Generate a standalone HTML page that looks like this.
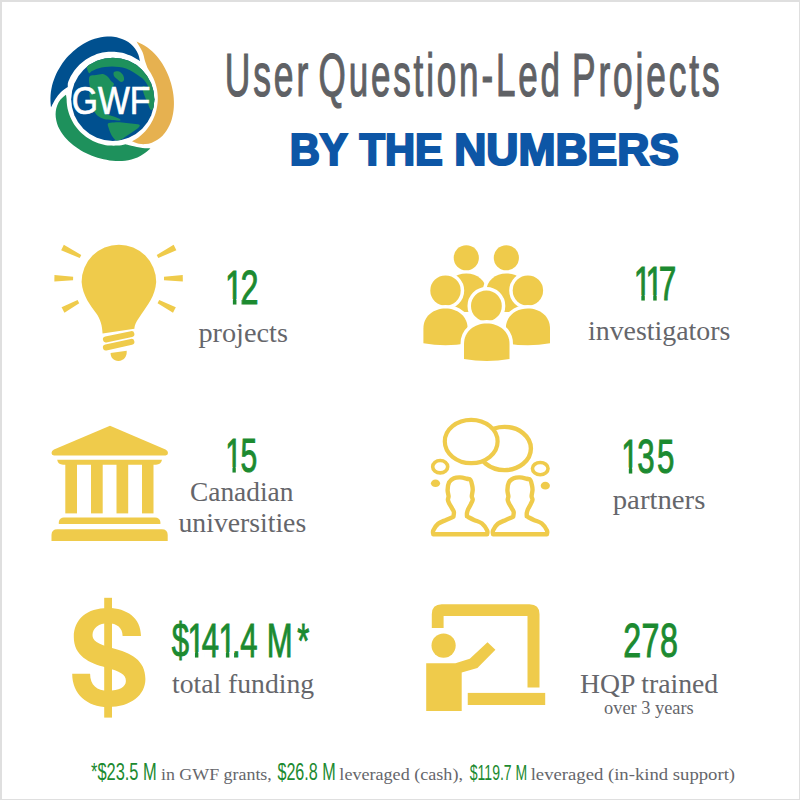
<!DOCTYPE html>
<html><head><meta charset="utf-8"><title>User Question-Led Projects by the Numbers</title>
<style>
html,body{margin:0;padding:0;background:#fff;}
body{width:800px;height:800px;overflow:hidden;position:relative;font-family:"Liberation Sans",sans-serif;}
.frame{position:absolute;left:0;top:0;width:800px;height:800px;box-sizing:border-box;border-style:solid;border-color:#dfdfdf;border-width:2px 1px 1px 2px;}
svg{position:absolute;left:0;top:0;}
</style></head>
<body>
<div class="frame"></div>
<svg width="800" height="800" viewBox="0 0 800 800">
<defs></defs>
<path d="M51.00,107.50 C50.91,106.46 50.55,103.33 50.48,101.23 C50.41,99.14 50.42,97.03 50.58,94.95 C50.73,92.86 51.03,90.77 51.42,88.72 C51.81,86.66 52.32,84.62 52.92,82.62 C53.52,80.62 54.23,78.65 55.02,76.72 C55.81,74.80 56.71,72.91 57.67,71.06 C58.64,69.22 59.70,67.42 60.82,65.67 C61.95,63.93 63.16,62.22 64.44,60.58 C65.72,58.94 67.08,57.35 68.50,55.83 C69.93,54.30 71.42,52.83 72.99,51.44 C74.55,50.05 76.18,48.72 77.88,47.48 C79.57,46.24 81.34,45.07 83.15,44.01 C84.97,42.94 86.86,41.95 88.79,41.09 C90.71,40.22 92.71,39.45 94.73,38.82 C96.75,38.19 98.82,37.66 100.91,37.29 C102.99,36.92 105.12,36.68 107.23,36.61 C109.34,36.54 111.48,36.61 113.56,36.87 C115.65,37.12 117.75,37.54 119.75,38.15 C121.75,38.76 123.73,39.55 125.57,40.53 C127.41,41.51 129.20,42.68 130.80,44.04 C132.40,45.40 133.90,46.95 135.15,48.68 C136.40,50.40 137.51,52.32 138.32,54.38 C139.13,56.43 139.72,59.90 140.00,61.00 C139.44,60.67 137.75,59.66 136.63,59.00 C135.51,58.33 134.41,57.62 133.25,57.01 C132.10,56.40 130.91,55.83 129.70,55.32 C128.50,54.80 127.26,54.34 126.01,53.93 C124.76,53.52 123.49,53.17 122.20,52.87 C120.92,52.57 119.62,52.32 118.31,52.13 C117.00,51.94 115.68,51.81 114.36,51.73 C113.04,51.66 111.70,51.64 110.38,51.68 C109.05,51.72 107.72,51.82 106.40,51.97 C105.08,52.12 103.76,52.34 102.46,52.60 C101.16,52.87 99.86,53.19 98.58,53.57 C97.31,53.95 96.04,54.39 94.80,54.88 C93.56,55.36 92.33,55.91 91.14,56.50 C89.94,57.09 88.77,57.74 87.63,58.44 C86.49,59.13 85.37,59.88 84.30,60.67 C83.22,61.46 82.18,62.30 81.17,63.18 C80.17,64.06 79.20,64.99 78.27,65.95 C77.35,66.91 76.46,67.92 75.63,68.96 C74.79,70.00 73.99,71.08 73.25,72.18 C72.50,73.29 71.80,74.43 71.16,75.60 C70.51,76.76 69.91,77.96 69.37,79.18 C68.83,80.39 68.16,81.59 67.90,82.89 C67.64,84.20 67.82,86.32 67.80,87.00 C66.67,87.83 63.05,90.00 61.00,92.00 C58.95,94.00 57.17,96.42 55.50,99.00 C53.83,101.58 51.75,106.08 51.00,107.50 Z" fill="#00508f"/>
<path d="M136.50,41.50 C137.44,41.97 140.31,43.29 142.14,44.31 C143.97,45.33 145.80,46.39 147.50,47.60 C149.21,48.81 150.83,50.16 152.36,51.57 C153.90,52.99 155.34,54.51 156.70,56.08 C158.06,57.64 159.33,59.30 160.51,60.98 C161.70,62.67 162.80,64.42 163.82,66.19 C164.84,67.97 165.78,69.79 166.65,71.64 C167.51,73.48 168.30,75.36 169.02,77.26 C169.73,79.17 170.37,81.10 170.94,83.05 C171.51,85.00 172.00,86.98 172.41,88.97 C172.83,90.97 173.17,92.98 173.42,95.02 C173.66,97.05 173.84,99.10 173.90,101.16 C173.97,103.22 173.95,105.30 173.82,107.37 C173.68,109.44 173.45,111.52 173.08,113.57 C172.72,115.62 172.24,117.68 171.63,119.68 C171.01,121.68 170.27,123.66 169.37,125.55 C168.48,127.45 167.45,129.31 166.27,131.03 C165.09,132.75 163.76,134.41 162.29,135.88 C160.82,137.35 159.20,138.73 157.45,139.87 C155.70,141.00 153.80,142.00 151.81,142.70 C149.83,143.40 147.69,143.91 145.53,144.07 C143.36,144.23 141.06,144.13 138.81,143.66 C136.55,143.19 133.13,141.65 132.00,141.25 C132.56,140.97 134.28,140.19 135.35,139.55 C136.43,138.90 137.43,138.14 138.43,137.39 C139.42,136.63 140.39,135.84 141.32,135.01 C142.25,134.19 143.14,133.32 144.00,132.44 C144.87,131.55 145.69,130.62 146.48,129.68 C147.27,128.73 148.02,127.75 148.74,126.75 C149.45,125.75 150.12,124.72 150.76,123.67 C151.39,122.62 151.98,121.55 152.54,120.46 C153.09,119.36 153.60,118.25 154.07,117.12 C154.53,115.99 154.96,114.85 155.34,113.69 C155.72,112.53 156.06,111.35 156.35,110.17 C156.65,108.99 156.90,107.79 157.10,106.59 C157.30,105.39 157.46,104.17 157.57,102.96 C157.68,101.74 157.75,100.52 157.77,99.30 C157.79,98.08 157.77,96.85 157.70,95.63 C157.63,94.41 157.51,93.18 157.35,91.97 C157.18,90.75 156.97,89.54 156.72,88.33 C156.46,87.13 156.16,85.93 155.82,84.75 C155.47,83.56 155.08,82.39 154.64,81.22 C154.21,80.06 153.73,78.92 153.20,77.79 C152.68,76.66 152.11,75.54 151.50,74.45 C150.89,73.36 150.20,72.31 149.53,71.24 C148.87,70.16 147.84,68.54 147.50,68.00 C147.08,66.83 145.83,63.67 145.00,61.00 C144.17,58.33 143.92,55.25 142.50,52.00 C141.08,48.75 137.50,43.25 136.50,41.50 Z" fill="#e6b150"/>
<path d="M66.00,94.75 C65.09,95.54 61.97,97.78 60.52,99.51 C59.07,101.24 58.08,103.20 57.29,105.15 C56.50,107.10 56.02,109.17 55.77,111.21 C55.51,113.25 55.54,115.34 55.76,117.37 C55.97,119.40 56.44,121.43 57.05,123.38 C57.66,125.33 58.48,127.24 59.42,129.06 C60.35,130.89 61.46,132.65 62.65,134.31 C63.85,135.98 65.18,137.57 66.57,139.07 C67.96,140.58 69.46,141.99 71.00,143.33 C72.55,144.66 74.17,145.91 75.83,147.09 C77.48,148.27 79.20,149.36 80.95,150.38 C82.69,151.41 84.48,152.36 86.30,153.24 C88.12,154.12 89.98,154.93 91.86,155.67 C93.74,156.42 95.65,157.09 97.59,157.70 C99.53,158.30 101.50,158.83 103.50,159.28 C105.49,159.73 107.52,160.12 109.56,160.40 C111.61,160.68 113.68,160.88 115.76,160.97 C117.84,161.05 119.95,161.05 122.04,160.91 C124.14,160.77 126.25,160.53 128.32,160.13 C130.39,159.74 132.47,159.22 134.47,158.53 C136.47,157.84 138.46,157.01 140.31,156.01 C142.17,155.01 143.94,153.79 145.62,152.52 C147.30,151.25 149.60,149.09 150.40,148.40 C149.08,148.33 145.69,148.44 142.50,148.00 C139.31,147.56 134.12,146.38 131.25,145.75 C128.38,145.12 126.25,144.50 125.25,144.25 C124.61,144.40 122.71,144.91 121.42,145.14 C120.14,145.36 118.83,145.51 117.53,145.62 C116.22,145.73 114.91,145.78 113.61,145.78 C112.31,145.78 111.00,145.73 109.70,145.62 C108.40,145.51 107.10,145.35 105.82,145.14 C104.54,144.92 103.26,144.65 102.00,144.33 C100.74,144.01 99.49,143.64 98.27,143.22 C97.04,142.80 95.83,142.32 94.64,141.80 C93.45,141.28 92.28,140.70 91.14,140.09 C90.01,139.47 88.89,138.80 87.81,138.09 C86.72,137.38 85.67,136.63 84.65,135.83 C83.63,135.03 82.64,134.19 81.69,133.32 C80.74,132.44 79.82,131.52 78.94,130.57 C78.07,129.61 77.23,128.62 76.44,127.60 C75.65,126.58 74.90,125.52 74.19,124.44 C73.49,123.35 72.82,122.24 72.21,121.10 C71.60,119.96 71.03,118.79 70.51,117.61 C70.00,116.43 69.53,115.21 69.11,113.99 C68.69,112.77 68.32,111.52 68.01,110.27 C67.70,109.01 67.43,107.74 67.22,106.46 C67.01,105.18 66.85,103.89 66.75,102.60 C66.65,101.31 66.73,100.02 66.60,98.72 C66.48,97.41 66.10,95.41 66.00,94.75 Z" fill="#1e915c"/>
<defs><clipPath id="gclip"><circle cx="112.8" cy="99.3" r="41.6"/></clipPath></defs>
<circle cx="112.8" cy="99.3" r="41.6" fill="#00508f"/>
<path clip-path="url(#gclip)" d="M86.94221803632234,66.20354834851767 C87.41,64.52 90.11,63.90 91.80,62.93 C93.49,61.95 95.26,61.09 97.07,60.36 C98.87,59.63 100.75,59.02 102.64,58.55 C104.53,58.08 106.47,57.73 108.41,57.53 C110.35,57.33 112.32,57.26 114.27,57.33 C116.21,57.39 118.17,57.60 120.09,57.94 C122.01,58.28 123.93,58.75 125.78,59.36 C127.63,59.96 129.46,60.70 131.21,61.55 C132.96,62.40 134.67,63.39 136.29,64.48 C137.90,65.57 139.46,66.78 140.90,68.09 C142.35,69.39 143.72,70.81 144.97,72.30 C146.23,73.80 147.39,75.39 148.42,77.04 C149.45,78.70 150.38,80.44 151.17,82.22 C151.96,84.00 152.64,85.85 153.17,87.72 C153.71,89.60 154.12,91.53 154.39,93.45 C154.66,95.38 154.80,97.35 154.80,99.30 C154.80,101.25 154.69,104.36 154.39,105.15 C154.09,105.93 153.57,105.86 153.00,104.00 C152.43,102.14 151.83,97.00 151.00,94.00 C150.17,91.00 149.17,88.33 148.00,86.00 C146.83,83.67 145.50,81.67 144.00,80.00 C142.50,78.33 140.83,77.33 139.00,76.00 C137.17,74.67 135.17,73.25 133.00,72.00 C130.83,70.75 128.33,69.33 126.00,68.50 C123.67,67.67 121.33,67.33 119.00,67.00 C116.67,66.67 114.33,66.50 112.00,66.50 C109.67,66.50 107.33,66.67 105.00,67.00 C102.67,67.33 100.17,67.83 98.00,68.50 C95.83,69.17 93.50,70.25 92.00,71.00 C90.50,71.75 89.84,73.80 89.00,73.00 C88.16,72.20 86.48,67.88 86.94,66.20 Z" fill="#1e915c"/>
<path clip-path="url(#gclip)" d="M90,76 C91.17,75.00 93.83,75.33 96.00,75.00 C98.17,74.67 101.00,73.67 103.00,74.00 C105.00,74.33 106.67,75.83 108.00,77.00 C109.33,78.17 110.00,79.83 111.00,81.00 C112.00,82.17 113.83,82.67 114.00,84.00 C114.17,85.33 112.00,87.17 112.00,89.00 C112.00,90.83 114.00,93.00 114.00,95.00 C114.00,97.00 113.00,99.33 112.00,101.00 C111.00,102.67 109.17,103.50 108.00,105.00 C106.83,106.50 105.33,108.50 105.00,110.00 C104.67,111.50 104.83,113.00 106.00,114.00 C107.17,115.00 109.83,115.25 112.00,116.00 C114.17,116.75 117.67,117.75 119.00,118.50 C120.33,119.25 121.17,120.25 120.00,120.50 C118.83,120.75 114.67,120.25 112.00,120.00 C109.33,119.75 106.33,119.67 104.00,119.00 C101.67,118.33 99.67,117.33 98.00,116.00 C96.33,114.67 95.17,113.00 94.00,111.00 C92.83,109.00 91.75,106.50 91.00,104.00 C90.25,101.50 89.67,98.67 89.50,96.00 C89.33,93.33 90.08,90.50 90.00,88.00 C89.92,85.50 89.00,83.00 89.00,81.00 C89.00,79.00 88.83,77.00 90.00,76.00 Z" fill="#1e915c"/>
<path clip-path="url(#gclip)" d="M114,72 C114.83,71.25 117.50,71.00 119.00,71.50 C120.50,72.00 122.17,73.58 123.00,75.00 C123.83,76.42 124.33,78.83 124.00,80.00 C123.67,81.17 122.17,82.17 121.00,82.00 C119.83,81.83 118.17,80.00 117.00,79.00 C115.83,78.00 114.50,77.17 114.00,76.00 C113.50,74.83 113.17,72.75 114.00,72.00 Z" fill="#1e915c"/>
<path clip-path="url(#gclip)" d="M108,123.5 C108.83,122.42 111.67,122.67 114.00,122.50 C116.33,122.33 119.17,122.33 122.00,122.50 C124.83,122.67 128.17,123.17 131.00,123.50 C133.83,123.83 137.67,123.92 139.00,124.50 C140.33,125.08 139.83,125.92 139.00,127.00 C138.17,128.08 135.83,129.67 134.00,131.00 C132.17,132.33 130.00,133.67 128.00,135.00 C126.00,136.33 123.83,138.00 122.00,139.00 C120.17,140.00 118.67,141.50 117.00,141.00 C115.33,140.50 113.33,138.00 112.00,136.00 C110.67,134.00 109.67,131.08 109.00,129.00 C108.33,126.92 107.17,124.58 108.00,123.50 Z" fill="#1e915c"/>
<path clip-path="url(#gclip)" d="M143,86 C143.83,85.50 146.50,86.83 148.00,88.00 C149.50,89.17 150.83,91.00 152.00,93.00 C153.17,95.00 154.58,97.67 155.00,100.00 C155.42,102.33 155.17,105.33 154.50,107.00 C153.83,108.67 152.08,110.50 151.00,110.00 C149.92,109.50 149.00,106.17 148.00,104.00 C147.00,101.83 145.83,99.17 145.00,97.00 C144.17,94.83 143.33,92.83 143.00,91.00 C142.67,89.17 142.17,86.50 143.00,86.00 Z" fill="#1e915c"/>
<text transform="translate(71.8,113.5) scale(0.865,1)" font-family="Liberation Sans" font-size="39" fill="#fff" stroke="#fff" stroke-width="0.7">GWF</text>
<path d="M102.55,333.5 C102.3,326 100.5,319 96,313 C91,306 82.5,296 81.6,282 A37.3,37.3 0 1 1 156.2,282 C155.3,296 147,306 141.5,314 C137.5,320 134.6,324 134.4,328.8 Z" fill="#efcb4b"/>
<line x1="105.9" y1="339.5" x2="131.4" y2="334.1" stroke="#efcb4b" stroke-width="6" stroke-linecap="round"/>
<line x1="105.9" y1="347.5" x2="131.4" y2="341.9" stroke="#efcb4b" stroke-width="6" stroke-linecap="round"/>
<path d="M110.6,353.1 L126.7,350.75 C127.2,356.5 123.8,360.9 118.4,360.9 C113.5,360.9 110.4,357.5 110.6,353.1 Z" fill="#efcb4b"/>
<path d="M61.16,250.18 L79.72,258.07 L81.28,254.93 L63.84,244.82 Z" fill="#efcb4b"/>
<path d="M54.35,281.45 L73.07,280.25 L73.13,276.75 L54.45,274.95 Z" fill="#efcb4b"/>
<path d="M64.44,312.63 L79.24,303.14 L77.56,300.06 L61.56,307.37 Z" fill="#efcb4b"/>
<path d="M173.63,244.83 L156.70,254.94 L158.30,258.06 L176.37,250.17 Z" fill="#efcb4b"/>
<path d="M182.75,274.95 L163.97,276.75 L164.03,280.25 L182.85,281.45 Z" fill="#efcb4b"/>
<path d="M175.79,307.34 L159.21,300.05 L157.59,303.15 L173.01,312.66 Z" fill="#efcb4b"/>
<path d="M446.30,310.00 L446.30,291.50 C446.30,280.50 455.30,273.50 466.30,273.50 C477.30,273.50 486.30,280.50 486.30,291.50 L486.30,310.00 Q466.30,314.00 446.30,310.00 Z" fill="#efcb4b" stroke="#fff" stroke-width="7" paint-order="stroke"/>
<circle cx="466.3" cy="257.75" r="12.6" fill="#efcb4b"/>
<path d="M486.35,310.00 L486.35,291.50 C486.35,280.50 495.35,273.50 506.35,273.50 C517.35,273.50 526.35,280.50 526.35,291.50 L526.35,310.00 Q506.35,314.00 486.35,310.00 Z" fill="#efcb4b" stroke="#fff" stroke-width="7" paint-order="stroke"/>
<circle cx="506.35" cy="257.75" r="12.6" fill="#efcb4b"/>
<circle cx="445.5" cy="290.6" r="15.2" fill="#efcb4b" stroke="#fff" stroke-width="7" paint-order="stroke"/>
<path d="M423.40,343.25 L423.40,328.39 C423.40,316.24 433.34,308.50 445.50,308.50 C457.66,308.50 467.60,316.24 467.60,328.39 L467.60,343.25 Q445.50,347.25 423.40,343.25 Z" fill="#efcb4b" stroke="#fff" stroke-width="7" paint-order="stroke"/>
<circle cx="527.9" cy="290.6" r="15.2" fill="#efcb4b" stroke="#fff" stroke-width="7" paint-order="stroke"/>
<path d="M505.80,343.25 L505.80,328.39 C505.80,316.24 515.75,308.50 527.90,308.50 C540.05,308.50 550.00,316.24 550.00,328.39 L550.00,343.25 Q527.90,347.25 505.80,343.25 Z" fill="#efcb4b" stroke="#fff" stroke-width="7" paint-order="stroke"/>
<circle cx="486.4" cy="305.9" r="15.4" fill="#efcb4b" stroke="#fff" stroke-width="7" paint-order="stroke"/>
<path d="M464.00,359.00 L464.00,343.88 C464.00,331.36 474.24,323.40 486.75,323.40 C499.26,323.40 509.50,331.36 509.50,343.88 L509.50,359.00 Q486.75,363.00 464.00,359.00 Z" fill="#efcb4b" stroke="#fff" stroke-width="7" paint-order="stroke"/>
<path d="M110,425.7 L165.5,449.5 Q168,450.8 168,453 Q168,455.4 165.5,455.4 L54,455.4 Q51.5,455.4 51.5,453 Q51.5,450.8 54,449.5 Z" fill="#efcb4b"/>
<path d="M57.2,459.8 L162,459.8 Q161,464.7 156,464.7 L63,464.7 Q58,464.7 57.2,459.8 Z" fill="#efcb4b"/>
<rect x="65.3" y="464" width="11.70" height="49.4" fill="#efcb4b"/>
<rect x="91" y="464" width="11.70" height="49.4" fill="#efcb4b"/>
<rect x="116.5" y="464" width="11.70" height="49.4" fill="#efcb4b"/>
<rect x="142" y="464" width="11.50" height="49.4" fill="#efcb4b"/>
<path d="M58.8,524 L58.8,522 Q59.5,517.5 64,517.5 L155,517.5 Q159.7,517.5 160.4,522 L160.4,524 Z" fill="#efcb4b"/>
<path d="M51.5,541 L51.5,535 Q51.5,529.2 57.5,529.2 L161.7,529.2 Q167.7,529.2 167.7,535 L167.7,541 Z" fill="#efcb4b"/>
<ellipse cx="504.5" cy="448.5" rx="26.4" ry="21.6" stroke="#efcb4b" stroke-width="4.4" fill="none"/>
<ellipse cx="471.2" cy="441.5" rx="26.4" ry="21.6" fill="#fff" stroke="#efcb4b" stroke-width="4.2"/>
<ellipse cx="440.2" cy="466.7" rx="7.5" ry="6.2" stroke="#efcb4b" stroke-width="3.6" fill="none"/>
<ellipse cx="435.5" cy="483.3" rx="4.6" ry="3.7" fill="#efcb4b"/>
<ellipse cx="540.25" cy="468.6" rx="7.8" ry="6.1" stroke="#efcb4b" stroke-width="3.6" fill="none"/>
<ellipse cx="545.3" cy="485.7" rx="4.6" ry="3.9" fill="#efcb4b"/>
<path d="M433.30,534.30 C433.30,533.65 432.50,532.15 433.30,530.40 C434.10,528.65 435.98,525.55 438.10,523.80 C440.22,522.05 443.45,521.07 446.00,519.90 C448.55,518.73 452.17,517.32 453.40,516.80 C453.48,516.00 454.12,513.38 453.90,512.00 C453.68,510.62 452.90,509.96 452.10,508.50 C451.30,507.04 449.80,504.71 449.10,503.25 C448.40,501.79 447.98,500.92 447.90,499.75 C447.82,498.58 448.65,497.86 448.60,496.25 C448.55,494.64 447.52,492.43 447.60,490.10 C447.68,487.77 448.05,484.22 449.10,482.25 C450.15,480.28 452.08,479.11 453.90,478.30 C455.72,477.49 457.82,477.32 460.00,477.40 C462.18,477.47 465.25,478.32 467.00,478.75 C468.75,479.18 469.62,478.83 470.50,480.00 C471.38,481.17 471.88,484.07 472.25,485.75 C472.62,487.43 472.77,488.35 472.70,490.10 C472.62,491.85 471.80,494.64 471.80,496.25 C471.80,497.86 472.85,498.44 472.70,499.75 C472.55,501.06 471.63,502.58 470.90,504.10 C470.17,505.62 468.95,507.43 468.30,508.90 C467.65,510.37 467.22,511.65 467.00,512.90 C466.78,514.15 467.00,515.82 467.00,516.40 C468.17,516.98 471.52,518.73 474.00,519.90 C476.48,521.07 479.72,521.65 481.90,523.40 C484.08,525.15 486.23,528.58 487.10,530.40 C487.97,532.22 487.10,533.65 487.10,534.30 Z" stroke="#efcb4b" stroke-width="4.4" fill="none" stroke-linejoin="round"/>
<path d="M433.30,534.30 C433.30,533.65 432.50,532.15 433.30,530.40 C434.10,528.65 435.98,525.55 438.10,523.80 C440.22,522.05 443.45,521.07 446.00,519.90 C448.55,518.73 452.17,517.32 453.40,516.80 C453.48,516.00 454.12,513.38 453.90,512.00 C453.68,510.62 452.90,509.96 452.10,508.50 C451.30,507.04 449.80,504.71 449.10,503.25 C448.40,501.79 447.98,500.92 447.90,499.75 C447.82,498.58 448.65,497.86 448.60,496.25 C448.55,494.64 447.52,492.43 447.60,490.10 C447.68,487.77 448.05,484.22 449.10,482.25 C450.15,480.28 452.08,479.11 453.90,478.30 C455.72,477.49 457.82,477.32 460.00,477.40 C462.18,477.47 465.25,478.32 467.00,478.75 C468.75,479.18 469.62,478.83 470.50,480.00 C471.38,481.17 471.88,484.07 472.25,485.75 C472.62,487.43 472.77,488.35 472.70,490.10 C472.62,491.85 471.80,494.64 471.80,496.25 C471.80,497.86 472.85,498.44 472.70,499.75 C472.55,501.06 471.63,502.58 470.90,504.10 C470.17,505.62 468.95,507.43 468.30,508.90 C467.65,510.37 467.22,511.65 467.00,512.90 C466.78,514.15 467.00,515.82 467.00,516.40 C468.17,516.98 471.52,518.73 474.00,519.90 C476.48,521.07 479.72,521.65 481.90,523.40 C484.08,525.15 486.23,528.58 487.10,530.40 C487.97,532.22 487.10,533.65 487.10,534.30 Z" transform="translate(59.8,0)" stroke="#efcb4b" stroke-width="4.4" fill="none" stroke-linejoin="round"/>
<rect x="104.2" y="597.8" width="7.8" height="119.8" fill="#efcb4b"/>
<path d="M141,636 C141,618 127,607.9 108,607.9 C87,607.9 73.8,619 73.8,637 C73.8,656 89,663 106,667.5 C120,671.5 125.9,674 125.9,681 C125.9,687 119,690.8 108,690.8 C97,690.8 90.1,685 90.1,673.7 L72.2,673.7 C72.2,694 87,707 108,707 C131,707 145.4,695 145.4,679 C145.4,660 131,653 112,648 C97,644 92.5,640.5 92.5,635 C92.5,628 99,623.3 108,623.3 C117,623.3 122.6,628 122.6,636 Z" fill="#efcb4b"/>
<path d="M431.8,627.9 L431.8,614.3 Q431.8,604.3 441.8,604.3 L529.5,604.3 Q539.5,604.3 539.5,614.3 L539.5,687.5 L527.5,687.5 L527.5,616.1 L443.6,616.1 L443.6,627.9 Z" fill="#efcb4b"/>
<rect x="467.75" y="692.9" width="77.45" height="12.1" fill="#efcb4b"/>
<circle cx="443.6" cy="645.6" r="12.1" fill="#efcb4b"/>
<path d="M426.2,663.3 L455.4,663.3 L469.8,658.8 L487.5,642.25 L495.4,649.8 L477.4,668.1 L461.7,672.6 L461.7,711.1 L426.2,711.1 Z" fill="#efcb4b"/>
<text y="95.50" font-family="Liberation Sans" font-weight="normal" font-size="61.5" fill="#5f6165" stroke="#5f6165" stroke-width="1.2" letter-spacing="5"><tspan x="224.69" textLength="86.44" lengthAdjust="spacingAndGlyphs">User</tspan> <tspan x="318.61" textLength="244.18" lengthAdjust="spacingAndGlyphs">Question-Led</tspan> <tspan x="571.95" textLength="150.59" lengthAdjust="spacingAndGlyphs">Projects</tspan></text>
<text y="165.00" font-family="Liberation Sans" font-weight="bold" font-size="44.5" fill="#0d56a6" stroke="#0d56a6" stroke-width="2.2"><tspan x="289.65" textLength="57.27" lengthAdjust="spacingAndGlyphs">BY</tspan> <tspan x="359.44" textLength="83.36" lengthAdjust="spacingAndGlyphs">THE</tspan> <tspan x="454.20" textLength="224.78" lengthAdjust="spacingAndGlyphs">NUMBERS</tspan></text>
<text x="340.51 363.96" transform="translate(0.00,304.00) scale(0.6611,1)" font-family="Liberation Sans" font-weight="normal" font-size="49" fill="#1c8a30" stroke="#1c8a30" stroke-width="1.0">12</text><rect x="225.66" y="298.98" width="7.21" height="6.52" fill="#fff"/><rect x="236.45" y="298.98" width="5.05" height="6.52" fill="#fff"/>
<text transform="translate(198.40,341.60) scale(1.0675,1)" font-family="Liberation Serif" font-weight="normal" font-size="26.5" fill="#65666b">projects</text>
<text x="984.23 1002.68 1023.03" transform="translate(0.00,300.00) scale(0.6439,1)" font-family="Liberation Sans" font-weight="normal" font-size="49" fill="#1c8a30" stroke="#1c8a30" stroke-width="1.0">117</text><rect x="634.30" y="294.98" width="7.03" height="6.52" fill="#fff"/><rect x="644.81" y="294.98" width="6.55" height="6.52" fill="#fff"/><rect x="646.18" y="294.98" width="7.03" height="6.52" fill="#fff"/><rect x="656.69" y="294.98" width="6.55" height="6.52" fill="#fff"/>
<text transform="translate(587.95,339.50) scale(1.0522,1)" font-family="Liberation Serif" font-weight="normal" font-size="26.5" fill="#65666b">investigators</text>
<text x="366.99 391.66" transform="translate(0.00,472.00) scale(0.6138,1)" font-family="Liberation Sans" font-weight="normal" font-size="49" fill="#1c8a30" stroke="#1c8a30" stroke-width="1.0">15</text><rect x="225.77" y="466.98" width="6.70" height="6.52" fill="#fff"/><rect x="235.79" y="466.98" width="5.71" height="6.52" fill="#fff"/>
<text transform="translate(189.97,500.50) scale(1.0343,1)" font-family="Liberation Serif" font-weight="normal" font-size="26.5" fill="#65666b">Canadian</text>
<text transform="translate(178.50,531.50) scale(1.0455,1)" font-family="Liberation Serif" font-weight="normal" font-size="26.5" fill="#65666b">universities</text>
<text x="974.40 999.22 1030.15" transform="translate(0.00,472.50) scale(0.6377,1)" font-family="Liberation Sans" font-weight="normal" font-size="49" fill="#1c8a30" stroke="#1c8a30" stroke-width="1.0">135</text><rect x="621.86" y="467.48" width="6.96" height="6.52" fill="#fff"/><rect x="632.27" y="467.48" width="6.04" height="6.52" fill="#fff"/>
<text transform="translate(612.75,508.75) scale(1.0853,1)" font-family="Liberation Serif" font-weight="normal" font-size="26.5" fill="#65666b">partners</text>
<text x="270.63 295.18 317.83 343.91 365.14 378.40 405.65 419.88 468.09" transform="translate(0.00,657.00) scale(0.6351,1)" font-family="Liberation Sans" font-weight="normal" font-size="49" fill="#1c8a30" stroke="#1c8a30" stroke-width="1.0">$141.4 M*</text><rect x="188.64" y="651.98" width="6.31" height="6.52" fill="#fff"/><rect x="198.38" y="651.98" width="6.46" height="6.52" fill="#fff"/><rect x="218.96" y="651.98" width="6.93" height="6.52" fill="#fff"/><rect x="229.33" y="651.98" width="4.67" height="6.52" fill="#fff"/>
<text transform="translate(172.00,693.00) scale(1.0441,1)" font-family="Liberation Serif" font-weight="normal" font-size="26.5" fill="#65666b">total funding</text>
<text x="946.72 974.44 1002.42" transform="translate(0.00,657.00) scale(0.6584,1)" font-family="Liberation Sans" font-weight="normal" font-size="49" fill="#1c8a30" stroke="#1c8a30" stroke-width="1.0">278</text>
<text transform="translate(579.95,693.00) scale(1.0458,1)" font-family="Liberation Serif" font-weight="normal" font-size="26.5" fill="#65666b">HQP trained</text>
<text transform="translate(604.03,714.40) scale(0.9670,1)" font-family="Liberation Serif" font-weight="normal" font-size="19" fill="#65666b">over 3 years</text>
<text transform="translate(91.00,780.00) scale(0.7143,1)" font-family="Liberation Sans" font-weight="normal" font-size="23" fill="#1c8a30">*$23.5 M</text>
<text transform="translate(160.98,780.00) scale(1.0236,1)" font-family="Liberation Serif" font-weight="normal" font-size="17.5" fill="#65666b">in GWF grants,</text>
<text transform="translate(277.40,780.00) scale(0.7024,1)" font-family="Liberation Sans" font-weight="normal" font-size="23" fill="#1c8a30">$26.8 M</text>
<text transform="translate(339.37,780.00) scale(1.0347,1)" font-family="Liberation Serif" font-weight="normal" font-size="17.5" fill="#65666b">leveraged (cash),</text>
<text transform="translate(469.80,780.00) scale(0.6097,1)" font-family="Liberation Sans" font-weight="normal" font-size="23" fill="#1c8a30">$119.7 M</text>
<text transform="translate(530.68,780.00) scale(1.0684,1)" font-family="Liberation Serif" font-weight="normal" font-size="17.5" fill="#65666b">leveraged (in-kind support)</text>
</svg>
</body></html>
